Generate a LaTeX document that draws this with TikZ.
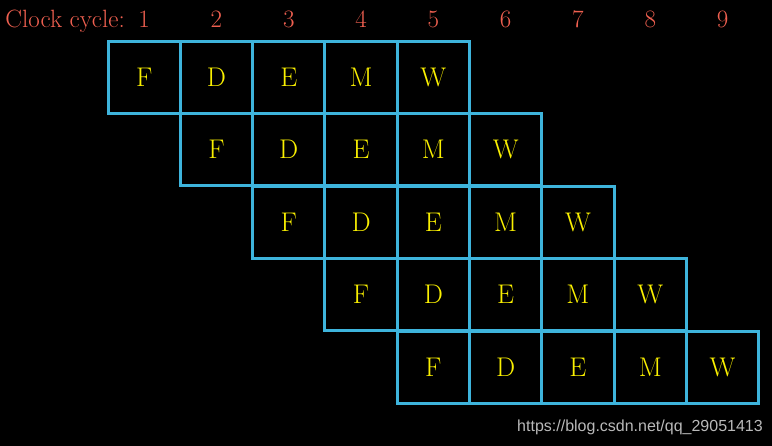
\documentclass[tikz,border=0pt]{standalone}
\usepackage{fontspec}
\newfontfamily\wmfont{Liberation Sans}
\definecolor{cellblue}{RGB}{62,180,220}
\definecolor{stageyellow}{RGB}{250,240,0}
\definecolor{labelred}{RGB}{240,96,80}
\definecolor{wmgrey}{RGB}{185,185,185}
\begin{document}
\begin{tikzpicture}[x=1pt,y=-1pt,
  cell/.style={draw=cellblue,line width=3pt,minimum size=72.3pt,inner sep=0pt,
    text=stageyellow,font=\fontsize{27}{30}\selectfont},
  cyclenum/.style={text=labelred,anchor=base,inner sep=0pt,font=\fontsize{25}{28}\selectfont},
  cyclelabel/.style={text=labelred,anchor=base east,inner sep=0pt,font=\fontsize{25}{28}\selectfont},
  watermark/.style={text=wmgrey,inner sep=0pt,font=\wmfont\fontsize{16}{18}\selectfont}]
\fill[black] (0,0) rectangle (772,446);
\useasboundingbox (0,0) rectangle (772,446);
\node[cyclelabel] (lbl) at (125,28) {Clock cycle:};
\foreach \k in {1,...,9}{
  \node[cyclenum] (n\k) at ({108+72.3*(\k-0.5)},28) {\k};
}
\foreach \r in {0,...,4}{
  \foreach \s [count=\i from 0] in {F,D,E,M,W}{
    \pgfmathsetmacro{\col}{\r+\i}
    \node[cell] (c-\r-\i) at ({108+72.3*(\col+0.5)},{41+72.5*(\r+0.5)}) {\s};
  }
}
\node[watermark] (wm) at (640,427) {https://blog.csdn.net/qq\_29051413};
\end{tikzpicture}
\end{document}
